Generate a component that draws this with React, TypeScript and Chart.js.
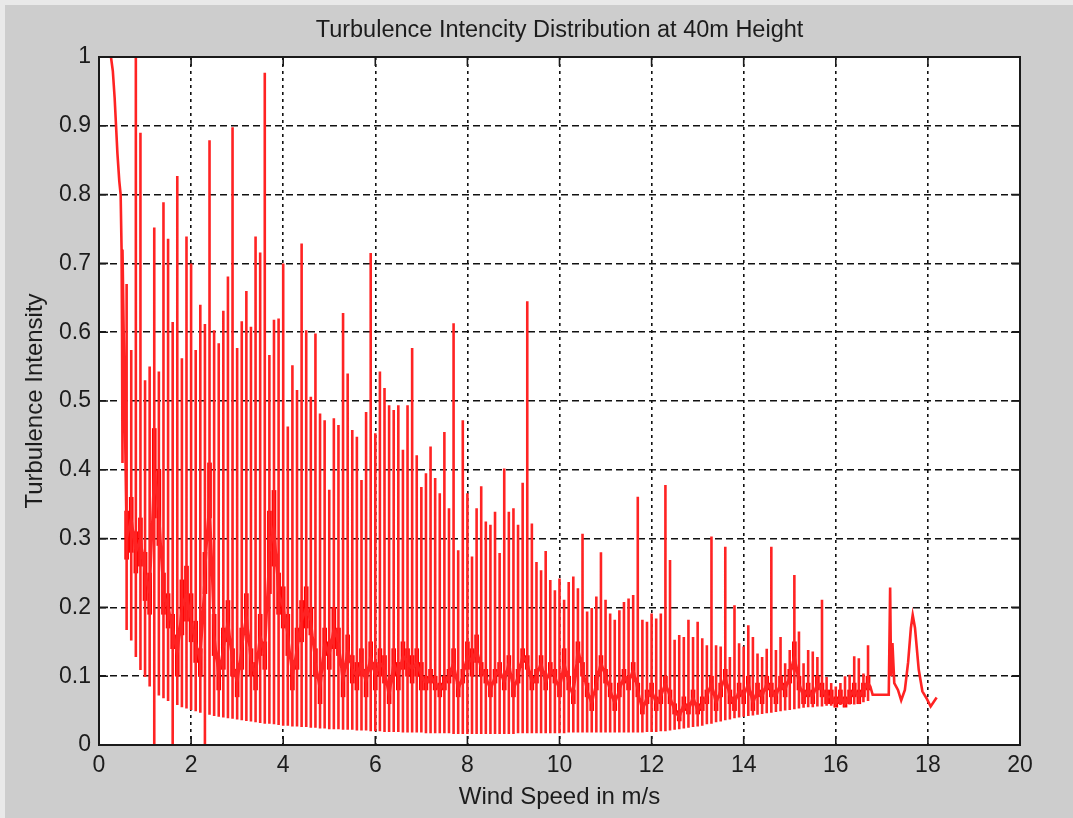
import React, { useEffect, useRef } from "react";
import { Chart, registerables } from "chart.js";

Chart.register(...registerables);

// ---- Data (turbulence intensity vs wind speed, 0.1 m/s bins) ----
const chartTitle = "Turbulence Intencity Distribution at 40m Height";
const xAxisTitle = "Wind Speed in m/s";
const yAxisTitle = "Turbulence Intensity";

const xTickValues = [0, 2, 4, 6, 8, 10, 12, 14, 16, 18, 20];
const yTickValues = [0, 0.1, 0.2, 0.3, 0.4, 0.5, 0.6, 0.7, 0.8, 0.9, 1];

// leading low-speed curve
const leadSpeed = [0.26, 0.3, 0.34, 0.37, 0.4, 0.44, 0.47, 0.49, 0.5, 0.51, 0.51];
const leadTI = [1.0, 0.98, 0.94, 0.9, 0.86, 0.82, 0.8, 0.72, 0.6, 0.41, 0.72];

// wind speed bins (m/s)
const windSpeedBins = [
  0.6, 0.7, 0.8, 0.9, 1.0, 1.1, 1.2, 1.3, 1.4, 1.5,
  1.6, 1.7, 1.8, 1.9, 2.0, 2.1, 2.2, 2.3, 2.4, 2.5,
  2.6, 2.7, 2.8, 2.9, 3.0, 3.1, 3.2, 3.3, 3.4, 3.5,
  3.6, 3.7, 3.8, 3.9, 4.0, 4.1, 4.2, 4.3, 4.4, 4.5,
  4.6, 4.7, 4.8, 4.9, 5.0, 5.1, 5.2, 5.3, 5.4, 5.5,
  5.6, 5.7, 5.8, 5.9, 6.0, 6.1, 6.2, 6.3, 6.4, 6.5,
  6.6, 6.7, 6.8, 6.9, 7.0, 7.1, 7.2, 7.3, 7.4, 7.5,
  7.6, 7.7, 7.8, 7.9, 8.0, 8.1, 8.2, 8.3, 8.4, 8.5,
  8.6, 8.7, 8.8, 8.9, 9.0, 9.1, 9.2, 9.3, 9.4, 9.5,
  9.6, 9.7, 9.8, 9.9, 10.0, 10.1, 10.2, 10.3, 10.4, 10.5,
  10.6, 10.7, 10.8, 10.9, 11.0, 11.1, 11.2, 11.3, 11.4, 11.5,
  11.6, 11.7, 11.8, 11.9, 12.0, 12.1, 12.2, 12.3, 12.4, 12.5,
  12.6, 12.7, 12.8, 12.9, 13.0, 13.1, 13.2, 13.3, 13.4, 13.5,
  13.6, 13.7, 13.8, 13.9, 14.0, 14.1, 14.2, 14.3, 14.4, 14.5,
  14.6, 14.7, 14.8, 14.9, 15.0, 15.1, 15.2, 15.3, 15.4, 15.5,
  15.6, 15.7, 15.8, 15.9, 16.0, 16.1, 16.2, 16.3, 16.4, 16.5,
  16.6, 16.7,
];

// highest turbulence intensity in each bin
const tiHigh = [
  0.67, 0.574, 1.0, 0.89, 0.53, 0.55, 0.752, 0.543, 0.789, 0.736,
  0.615, 0.827, 0.562, 0.739, 0.70, 0.574, 0.64, 0.612, 0.879, 0.603,
  0.584, 0.631, 0.681, 0.898, 0.577, 0.616, 0.66, 0.608, 0.739, 0.716,
  0.977, 0.567, 0.618, 0.62, 0.70, 0.463, 0.552, 0.516, 0.729, 0.603,
  0.506, 0.598, 0.482, 0.472, 0.371, 0.475, 0.465, 0.628, 0.54, 0.458,
  0.448, 0.385, 0.484, 0.715, 0.453, 0.543, 0.519, 0.494, 0.487, 0.494,
  0.429, 0.494, 0.577, 0.421, 0.375, 0.395, 0.434, 0.388, 0.366, 0.455,
  0.344, 0.613, 0.283, 0.472, 0.366, 0.274, 0.344, 0.376, 0.325, 0.32,
  0.339, 0.279, 0.402, 0.339, 0.344, 0.32, 0.381, 0.645, 0.322, 0.266,
  0.254, 0.282, 0.24, 0.225, 0.242, 0.211, 0.237, 0.245, 0.228, 0.307,
  0.194, 0.199, 0.216, 0.28, 0.211, 0.191, 0.182, 0.196, 0.208, 0.213,
  0.218, 0.361, 0.182, 0.179, 0.191, 0.184, 0.191, 0.378, 0.269, 0.153,
  0.16, 0.157, 0.182, 0.157, 0.179, 0.155, 0.145, 0.303, 0.145, 0.143,
  0.288, 0.128, 0.203, 0.148, 0.143, 0.174, 0.157, 0.133, 0.128, 0.14,
  0.288, 0.138, 0.157, 0.119, 0.138, 0.247, 0.165, 0.119, 0.138, 0.136,
  0.128, 0.211, 0.099, 0.09, 0.085, 0.09, 0.1, 0.102, 0.129, 0.126,
  0.104, 0.145,
];

// lowest turbulence intensity in each bin
const tiLow = [
  0.167, 0.152, 0.128, 0.109, 0.099, 0.085, 0.0, 0.072, 0.068, 0.064,
  0.0, 0.058, 0.055, 0.053, 0.051, 0.049, 0.047, 0.0, 0.044, 0.042,
  0.041, 0.04, 0.039, 0.038, 0.037, 0.036, 0.035, 0.034, 0.033, 0.032,
  0.031, 0.031, 0.03, 0.029, 0.028, 0.028, 0.027, 0.027, 0.026, 0.026,
  0.025, 0.025, 0.024, 0.024, 0.023, 0.023, 0.023, 0.022, 0.022, 0.022,
  0.021, 0.021, 0.021, 0.02, 0.02, 0.02, 0.019, 0.019, 0.019, 0.019,
  0.018, 0.018, 0.018, 0.018, 0.018, 0.017, 0.017, 0.017, 0.017, 0.017,
  0.017, 0.016, 0.016, 0.016, 0.016, 0.016, 0.016, 0.016, 0.016, 0.016,
  0.016, 0.016, 0.016, 0.016, 0.016, 0.017, 0.017, 0.017, 0.017, 0.017,
  0.017, 0.017, 0.017, 0.017, 0.017, 0.017, 0.018, 0.018, 0.018, 0.018,
  0.018, 0.018, 0.018, 0.018, 0.018, 0.018, 0.018, 0.018, 0.018, 0.018,
  0.018, 0.018, 0.018, 0.019, 0.019, 0.019, 0.02, 0.02, 0.021, 0.022,
  0.023, 0.024, 0.025, 0.026, 0.027, 0.028, 0.03, 0.031, 0.033, 0.034,
  0.036, 0.037, 0.039, 0.04, 0.041, 0.042, 0.043, 0.044, 0.045, 0.046,
  0.047, 0.048, 0.049, 0.05, 0.051, 0.052, 0.053, 0.054, 0.055, 0.055,
  0.056, 0.056, 0.057, 0.057, 0.058, 0.058, 0.058, 0.059, 0.059, 0.06,
  0.062, 0.064,
];

// typical turbulence intensity in each bin
const tiMid = [
  0.30, 0.33, 0.28, 0.30, 0.25, 0.22, 0.40, 0.34, 0.22, 0.20,
  0.17, 0.13, 0.20, 0.22, 0.18, 0.15, 0.12, 0.25, 0.36, 0.16,
  0.10, 0.14, 0.18, 0.12, 0.09, 0.14, 0.19, 0.12, 0.10, 0.16,
  0.13, 0.28, 0.32, 0.22, 0.20, 0.16, 0.10, 0.14, 0.18, 0.20,
  0.18, 0.12, 0.08, 0.15, 0.13, 0.17, 0.15, 0.09, 0.14, 0.11,
  0.10, 0.12, 0.09, 0.13, 0.10, 0.12, 0.11, 0.07, 0.12, 0.10,
  0.13, 0.12, 0.11, 0.12, 0.10, 0.09, 0.10, 0.09, 0.08, 0.09,
  0.10, 0.12, 0.08, 0.10, 0.13, 0.12, 0.14, 0.11, 0.10, 0.08,
  0.10, 0.11, 0.09, 0.12, 0.08, 0.10, 0.13, 0.12, 0.09, 0.10,
  0.12, 0.09, 0.11, 0.10, 0.08, 0.12, 0.09, 0.07, 0.14, 0.11,
  0.08, 0.06, 0.09, 0.12, 0.10, 0.08, 0.06, 0.08, 0.10, 0.09,
  0.11, 0.08, 0.05, 0.07, 0.08, 0.06, 0.07, 0.09, 0.07, 0.05,
  0.04, 0.06, 0.05, 0.07, 0.05, 0.06, 0.07, 0.09, 0.06, 0.08,
  0.10, 0.07, 0.06, 0.08, 0.07, 0.09, 0.06, 0.08, 0.07, 0.09,
  0.08, 0.07, 0.09, 0.08, 0.10, 0.13, 0.09, 0.07, 0.08, 0.07,
  0.09, 0.08, 0.07, 0.07, 0.06, 0.07, 0.06, 0.07, 0.08, 0.07,
  0.08, 0.09,
];

// densest band of readings in each bin (bottom / top)
const tiDenseLo = [
  0.27, 0.28, 0.25, 0.26, 0.21, 0.19, 0.33, 0.29, 0.19, 0.17,
  0.14, 0.10, 0.16, 0.18, 0.15, 0.12, 0.10, 0.22, 0.33, 0.13,
  0.08, 0.11, 0.15, 0.10, 0.07, 0.11, 0.16, 0.10, 0.08, 0.13,
  0.11, 0.22, 0.26, 0.19, 0.17, 0.13, 0.08, 0.11, 0.15, 0.17,
  0.16, 0.10, 0.06, 0.13, 0.11, 0.14, 0.13, 0.07, 0.12, 0.09,
  0.08, 0.10, 0.07, 0.11, 0.08, 0.10, 0.09, 0.06, 0.10, 0.08,
  0.11, 0.10, 0.09, 0.10, 0.08, 0.08, 0.09, 0.08, 0.07, 0.08,
  0.09, 0.10, 0.07, 0.09, 0.11, 0.10, 0.12, 0.10, 0.09, 0.07,
  0.09, 0.10, 0.08, 0.11, 0.07, 0.09, 0.12, 0.11, 0.08, 0.09,
  0.11, 0.08, 0.10, 0.09, 0.07, 0.10, 0.08, 0.06, 0.12, 0.10,
  0.07, 0.05, 0.08, 0.11, 0.09, 0.07, 0.05, 0.07, 0.09, 0.08,
  0.10, 0.07, 0.045, 0.06, 0.07, 0.05, 0.06, 0.08, 0.06, 0.045,
  0.035, 0.05, 0.045, 0.06, 0.045, 0.05, 0.06, 0.08, 0.05, 0.07,
  0.09, 0.06, 0.05, 0.07, 0.06, 0.08, 0.05, 0.07, 0.06, 0.08,
  0.07, 0.06, 0.08, 0.07, 0.09, 0.11, 0.08, 0.06, 0.07, 0.06,
  0.08, 0.07, 0.06, 0.06, 0.055, 0.06, 0.055, 0.06, 0.07, 0.06,
  0.07, 0.08,
];
const tiDenseHi = [
  0.34, 0.36, 0.31, 0.33, 0.28, 0.25, 0.46, 0.40, 0.25, 0.22,
  0.19, 0.16, 0.24, 0.26, 0.22, 0.18, 0.14, 0.28, 0.41, 0.19,
  0.12, 0.17, 0.21, 0.14, 0.11, 0.17, 0.22, 0.14, 0.12, 0.19,
  0.15, 0.34, 0.37, 0.25, 0.23, 0.19, 0.12, 0.17, 0.21, 0.23,
  0.20, 0.14, 0.10, 0.17, 0.15, 0.20, 0.17, 0.11, 0.16, 0.13,
  0.12, 0.14, 0.11, 0.15, 0.12, 0.14, 0.13, 0.09, 0.14, 0.12,
  0.15, 0.14, 0.13, 0.14, 0.12, 0.10, 0.11, 0.10, 0.09, 0.10,
  0.11, 0.14, 0.09, 0.11, 0.15, 0.14, 0.16, 0.12, 0.11, 0.09,
  0.11, 0.12, 0.10, 0.13, 0.09, 0.11, 0.14, 0.13, 0.10, 0.11,
  0.13, 0.10, 0.12, 0.11, 0.09, 0.14, 0.10, 0.08, 0.15, 0.12,
  0.09, 0.07, 0.10, 0.13, 0.11, 0.09, 0.07, 0.09, 0.11, 0.10,
  0.12, 0.09, 0.06, 0.08, 0.09, 0.07, 0.08, 0.10, 0.08, 0.06,
  0.05, 0.07, 0.06, 0.08, 0.06, 0.07, 0.08, 0.10, 0.07, 0.09,
  0.11, 0.08, 0.07, 0.09, 0.08, 0.10, 0.07, 0.09, 0.08, 0.10,
  0.09, 0.08, 0.10, 0.09, 0.11, 0.15, 0.10, 0.08, 0.09, 0.08,
  0.10, 0.09, 0.08, 0.08, 0.07, 0.08, 0.07, 0.08, 0.09, 0.08,
  0.09, 0.10,
];

// high-speed tail (sparse data)
const tailSpeed = [16.75, 16.8, 17.15, 17.18, 17.2, 17.23, 17.27, 17.35, 17.42, 17.5, 17.57, 17.63, 17.67, 17.72, 17.8, 17.88, 17.97, 18.06, 18.19];
const tailTI = [0.085, 0.073, 0.073, 0.229, 0.1, 0.148, 0.09, 0.08, 0.065, 0.08, 0.12, 0.17, 0.189, 0.17, 0.11, 0.078, 0.068, 0.056, 0.069];

const FONT = "'Liberation Sans', Arial, Helvetica, sans-serif";
const TEXT = "#1c1c1c";
const RED = "rgb(255,0,0)";

function buildPoints() {
  const pts: { x: number; y: number }[] = [];
  leadSpeed.forEach((s, i) => pts.push({ x: s, y: leadTI[i] }));
  windSpeedBins.forEach((s, i) => {
    pts.push({ x: s, y: tiMid[i] });
    pts.push({ x: s, y: tiHigh[i] });
    pts.push({ x: s, y: tiLow[i] });
    pts.push({ x: s, y: tiMid[i] });
  });
  tailSpeed.forEach((s, i) => pts.push({ x: s, y: tailTI[i] }));
  return pts;
}

function buildDense() {
  return windSpeedBins.map((s, i) => ({ x: s, y: [tiDenseLo[i], tiDenseHi[i]] }));
}

const framePlugin = {
  id: "matlabFrame",
  beforeDraw(chart: any) {
    const { ctx, width, height, chartArea } = chart;
    ctx.save();
    ctx.fillStyle = "#e9e9e9";
    ctx.fillRect(0, 0, width, height);
    ctx.fillStyle = "#cdcdcd";
    ctx.fillRect(5, 5, width - 5, height - 5);
    ctx.fillStyle = "#ffffff";
    ctx.fillRect(chartArea.left, chartArea.top, chartArea.right - chartArea.left, chartArea.bottom - chartArea.top);
    ctx.restore();
  },
  afterDraw(chart: any) {
    const { ctx, chartArea, scales } = chart;
    const { left, right, top, bottom } = chartArea;
    ctx.save();
    ctx.strokeStyle = "#1a1a1a";
    ctx.lineWidth = 1.6;
    ctx.setLineDash([]);
    ctx.beginPath();
    const tl = 9;
    scales.x.ticks.forEach((t: any) => {
      const px = scales.x.getPixelForValue(t.value);
      ctx.moveTo(px, bottom);
      ctx.lineTo(px, bottom - tl);
      ctx.moveTo(px, top);
      ctx.lineTo(px, top + tl);
    });
    scales.y.ticks.forEach((t: any) => {
      const py = scales.y.getPixelForValue(t.value);
      ctx.moveTo(left, py);
      ctx.lineTo(left + tl, py);
      ctx.moveTo(right, py);
      ctx.lineTo(right - tl, py);
    });
    ctx.stroke();
    ctx.lineWidth = 2;
    ctx.strokeRect(left, top, right - left, bottom - top);
    ctx.restore();
  },
};

export default function App() {
  const canvasRef = useRef<HTMLCanvasElement | null>(null);

  useEffect(() => {
    const canvas = canvasRef.current;
    if (!canvas) return;
    const chart = new Chart(canvas, {
      type: "scatter",
      data: {
        datasets: [
          {
            type: "bar",
            label: "TI dense",
            data: buildDense() as any,
            backgroundColor: RED,
            borderWidth: 0,
            barThickness: 4,
            grouped: false,
            order: 2,
          } as any,
          {
            type: "scatter",
            label: "TI",
            data: buildPoints(),
            showLine: true,
            borderColor: "rgb(255,35,35)",
            backgroundColor: RED,
            borderWidth: 2.6,
            pointRadius: 0,
            tension: 0,
            order: 1,
          },
        ],
      },
      plugins: [framePlugin],
      options: {
        responsive: false,
        animation: false,
        events: [],
        layout: { padding: { left: 0, right: 53, top: 0, bottom: 0 } },
        plugins: {
          legend: { display: false },
          tooltip: { enabled: false },
          title: {
            display: true,
            fullSize: false,
            text: chartTitle,
            color: TEXT,
            font: { family: FONT, size: 23.5, weight: "normal" },
            padding: { top: 16.4, bottom: 12.4 },
          },
        },
        scales: {
          x: {
            type: "linear",
            min: 0,
            max: 20,
            offset: false,
            z: 1,
            afterBuildTicks: (scale: any) => {
              scale.ticks = xTickValues.map((v) => ({ value: v }));
            },
            afterFit: (scale: any) => {
              scale.height = 73;
            },
            ticks: {
              color: TEXT,
              font: { family: FONT, size: 23 },
              padding: 7,
              maxRotation: 0,
              autoSkip: false,
              callback: (v: any) => String(v),
            },
            grid: { color: "#111", lineWidth: 1.6, drawTicks: false, offset: false },
            border: { display: false, dash: [3, 4] },
            title: {
              display: true,
              text: xAxisTitle,
              color: TEXT,
              font: { family: FONT, size: 24 },
              padding: { top: 0, bottom: 6.6 },
            },
          },
          y: {
            type: "linear",
            min: 0,
            max: 1,
            z: 1,
            afterBuildTicks: (scale: any) => {
              scale.ticks = yTickValues.map((v) => ({ value: v }));
            },
            afterFit: (scale: any) => {
              scale.width = 99;
            },
            ticks: {
              color: TEXT,
              font: { family: FONT, size: 23 },
              padding: 8,
              autoSkip: false,
              callback: (v: any) => String(Math.round(v * 10) / 10),
            },
            grid: { color: "#111", lineWidth: 1.6, drawTicks: false },
            border: { display: false, dash: [7, 4] },
            title: {
              display: true,
              text: yAxisTitle,
              color: TEXT,
              font: { family: FONT, size: 24 },
              padding: { top: 20.6, bottom: 0 },
            },
          },
        },
      },
    });
    return () => chart.destroy();
  }, []);

  return (
    <div style={{ position: "fixed", left: 0, top: 0, width: 1073, height: 818, overflow: "hidden" }}>
      <canvas ref={canvasRef} width={1073} height={818} style={{ display: "block", width: 1073, height: 818 }} />
    </div>
  );
}
